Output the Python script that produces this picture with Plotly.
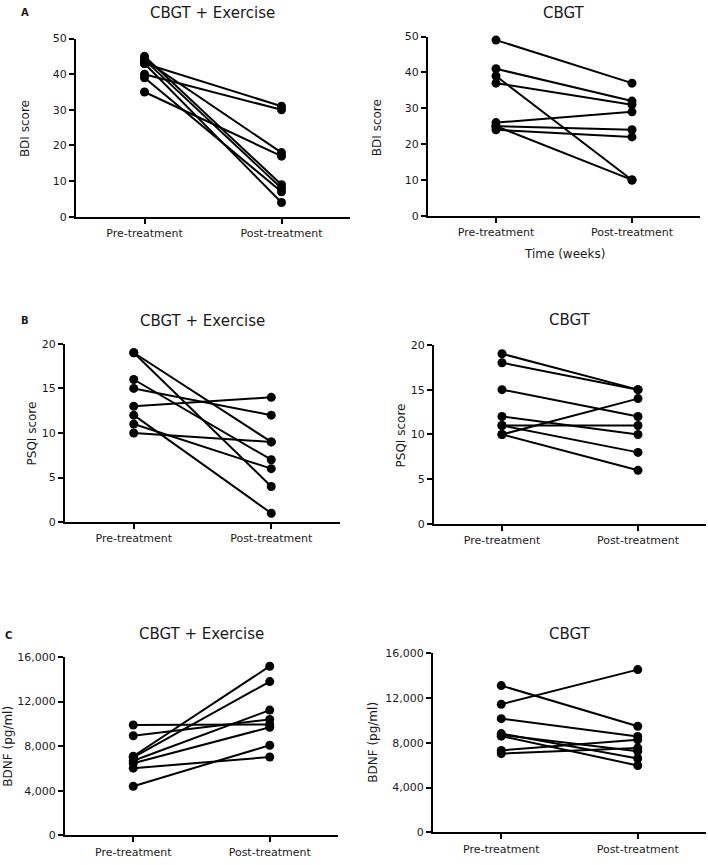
import plotly.graph_objects as go

W, H = 708, 865

tick_labels = ["Pre-treatment", "Post-treatment"]

# Panel A: BDI score
bdi_ex_pre = [43, 40, 44, 35, 45, 44, 39, 43]
bdi_ex_post = [31, 30, 18, 17, 9, 8, 7, 4]
bdi_cb_pre = [49, 41, 37, 39, 26, 25, 24, 25]
bdi_cb_post = [37, 32, 31, 10, 29, 24, 22, 10]

# Panel B: PSQI score
psqi_ex_pre = [19, 19, 16, 15, 13, 12, 11, 10]
psqi_ex_post = [9, 4, 7, 12, 14, 1, 6, 9]
psqi_cb_pre = [19, 18, 15, 12, 11, 11, 10, 10]
psqi_cb_post = [15, 15, 12, 10, 11, 8, 14, 6]

# Panel C: BDNF (pg/ml)
bdnf_ex_pre = [9900, 8940, 7100, 7000, 6700, 6470, 6030, 4410]
bdnf_ex_post = [9950, 10400, 15180, 13800, 11240, 9700, 7030, 8090]
bdnf_cb_pre = [13100, 11440, 10150, 8820, 8590, 7320, 7030, 8700]
bdnf_cb_post = [9470, 14530, 8560, 6590, 5970, 8260, 7530, 7240]

FONT = "DejaVu Sans, Liberation Sans, Arial, sans-serif"
TXT = "#1a1a1a"

# panel pixel boxes: (left, right, top, bottom)
panels = [
    dict(box=(76, 350, 33, 214), pre=bdi_ex_pre, post=bdi_ex_post, yr=50, dt=10,
         ytitle="BDI score", title="CBGT + Exercise", fmt="", ty=7, yt=(25, 125)),
    dict(box=(428, 700, 31, 213), pre=bdi_cb_pre, post=bdi_cb_post, yr=50, dt=10,
         ytitle="BDI score", title="CBGT", fmt="", ty=7, yt=(377, 123)),
    dict(box=(65, 340, 343, 524), pre=psqi_ex_pre, post=psqi_ex_post, yr=20, dt=5,
         ytitle="PSQI score", title="CBGT + Exercise", fmt="", ty=320, yt=(32, 434)),
    dict(box=(434, 706, 344, 526), pre=psqi_cb_pre, post=psqi_cb_post, yr=20, dt=5,
         ytitle="PSQI score", title="CBGT", fmt="", ty=319, yt=(401, 436)),
    dict(box=(65, 338, 661, 842), pre=bdnf_ex_pre, post=bdnf_ex_post, yr=16000, dt=4000,
         ytitle="BDNF (pg/ml)", title="CBGT + Exercise", fmt=",", ty=638, yt=(8, 752)),
    dict(box=(433, 706, 657, 839), pre=bdnf_cb_pre, post=bdnf_cb_post, yr=16000, dt=4000,
         ytitle="BDNF (pg/ml)", title="CBGT", fmt=",", ty=638, yt=(373, 748)),
]

fig = go.Figure()
layout = {}
annotations = []


def ann(text, px, py, size, angle=0):
    return dict(text=text, x=px / W, y=1 - py / H, xref="paper", yref="paper",
                xanchor="center", yanchor="middle", showarrow=False, textangle=angle,
                font=dict(family=FONT, size=size, color=TXT))


for i, p in enumerate(panels):
    n = i + 1
    xa = "x" if n == 1 else f"x{n}"
    ya = "y" if n == 1 else f"y{n}"
    l, r, t, b = p["box"]
    for a, c in zip(p["pre"], p["post"]):
        fig.add_trace(go.Scatter(
            x=[0, 1], y=[a, c], mode="lines+markers", xaxis=xa, yaxis=ya,
            line=dict(color="black", width=2),
            marker=dict(color="black", size=9),
            cliponaxis=False, showlegend=False, hoverinfo="skip"))
    xkey = "xaxis" if n == 1 else f"xaxis{n}"
    ykey = "yaxis" if n == 1 else f"yaxis{n}"
    layout[xkey] = dict(
        domain=[l / W, r / W], anchor=ya, range=[-0.5, 1.5],
        tickvals=[0, 1], ticktext=tick_labels,
        showline=True, linecolor="black", linewidth=2,
        ticks="outside", ticklen=5, tickwidth=2, tickcolor="black",
        showgrid=False, zeroline=False, fixedrange=True,
        tickfont=dict(family=FONT, size=11, color=TXT),
    )
    layout[ykey] = dict(
        domain=[1 - b / H, 1 - t / H], anchor=xa, range=[0, p["yr"]],
        dtick=p["dt"], tick0=0, tickformat=p["fmt"],
        showline=True, linecolor="black", linewidth=2,
        ticks="outside", ticklen=5, tickwidth=2, tickcolor="black",
        showgrid=False, zeroline=False, fixedrange=True,
        tickfont=dict(family=FONT, size=11, color=TXT),
    )
    annotations.append(ann(p["title"], (l + r) / 2, p["ty"], 15))
    annotations.append(ann(p["ytitle"], p["yt"][0], p["yt"][1], 12, angle=-90))

annotations.append(ann("Time (weeks)", 564, 252, 12))

for letter, (px, py) in zip(["A", "B", "C"], [(25, 7), (25, 319), (8, 639)]):
    annotations.append(ann(f"<b>{letter}</b>", px, py, 10))

fig.update_layout(
    width=W, height=H, margin=dict(l=0, r=0, t=0, b=0),
    paper_bgcolor="white", plot_bgcolor="white",
    annotations=annotations, showlegend=False, **layout)

fig.write_html("out.html", config={"displayModeBar": False},
               post_script="document.body.style.margin='0';")
